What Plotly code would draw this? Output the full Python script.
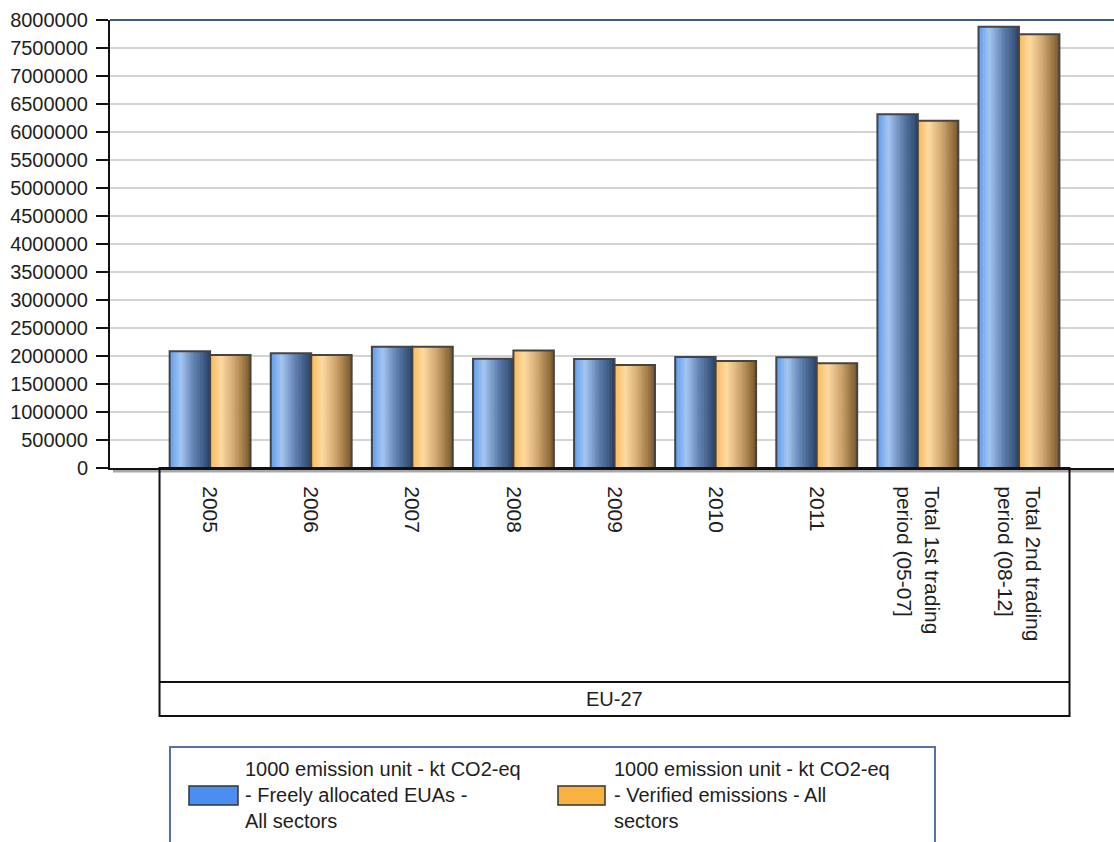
import plotly.graph_objects as go

# ---- data -------------------------------------------------------------
categories = [
    "2005", "2006", "2007", "2008", "2009", "2010", "2011",
    "Total 1st trading<br>period (05-07]",
    "Total 2nd trading<br>period (08-12]",
]
freely_allocated = [2085000, 2048000, 2163000, 1953000, 1948000,
                    1984000, 1977000, 6316000, 7880000]
verified_emissions = [2018000, 2018000, 2163000, 2097000, 1841000,
                      1912000, 1870000, 6200000, 7745000]

y_ticks = list(range(0, 8000001, 500000))
group_label = "EU-27"
legend_names = [
    "1000 emission unit - kt CO2-eq<br>- Freely allocated EUAs -<br>All sectors",
    "1000 emission unit - kt CO2-eq<br>- Verified emissions - All<br>sectors",
]

# ---- styling ----------------------------------------------------------
FONT = "Liberation Sans, Arial, sans-serif"
TEXT = "#1e1e1e"
W, H = 1114, 842
M_L, M_R, M_T, M_B = 110, 0, 20, 374
PLOT_H = H - M_T - M_B
PLOT_W = W - M_L - M_R

# horizontal gradient stops (position, rgb) for the cylinder-like bars
BLUE_STOPS = [(0.0, (92, 154, 238)), (0.27, (164, 198, 240)),
              (0.6, (96, 128, 176)), (1.0, (40, 66, 104))]
ORANGE_STOPS = [(0.0, (250, 184, 88)), (0.27, (253, 218, 160)),
                (0.6, (206, 164, 108)), (1.0, (120, 86, 40))]


def ramp(stops, t):
    for (p0, c0), (p1, c1) in zip(stops, stops[1:]):
        if p0 <= t <= p1:
            f = (t - p0) / (p1 - p0)
            c = [round(a + (b - a) * f) for a, b in zip(c0, c1)]
            return f"rgb({c[0]},{c[1]},{c[2]})"
    c = stops[-1][1]
    return f"rgb({c[0]},{c[1]},{c[2]})"


def py(pixel_y):
    """Pixel row on the page -> paper y coordinate."""
    return (H - M_B - pixel_y) / PLOT_H


def px(pixel_x):
    """Pixel column on the page -> paper x coordinate."""
    return (pixel_x - M_L) / PLOT_W


BAR_W = 0.4
N_STRIPES = 26

fig = go.Figure()

for values, stops, start in [(freely_allocated, BLUE_STOPS, -BAR_W),
                             (verified_emissions, ORANGE_STOPS, 0.0)]:
    sw = BAR_W / N_STRIPES
    for k in range(N_STRIPES):
        t = (k + 0.5) / N_STRIPES
        fig.add_trace(go.Bar(
            x=categories, y=values,
            width=sw * 1.35 if k < N_STRIPES - 1 else sw,
            offset=start + k * sw,
            marker=dict(color=ramp(stops, t), line=dict(width=0)),
            showlegend=False, hoverinfo="skip",
        ))
    # outline of each bar
    fig.add_trace(go.Bar(
        x=categories, y=values, width=BAR_W, offset=start,
        marker=dict(color="rgba(0,0,0,0)",
                    line=dict(color="#444444", width=2)),
        showlegend=False,
    ))

shapes = []
annotations = []

# shadow under the category axis
shapes.append(dict(type="line", xref="paper", yref="paper",
                   x0=px(113), x1=1, y0=py(471), y1=py(471),
                   line=dict(color="#a8a8a8", width=3), layer="below"))
# top border of the plot area
shapes.append(dict(type="line", xref="paper", yref="paper",
                   x0=0, x1=1, y0=1, y1=1,
                   line=dict(color="#3d5a8e", width=2)))

# grouping box below the category labels
box_style = dict(color="#111111", width=2)
shapes.append(dict(type="rect", xref="x", yref="paper",
                   x0=-0.5, x1=8.5, y0=py(716), y1=0,
                   line=box_style))
shapes.append(dict(type="line", xref="x", yref="paper",
                   x0=-0.5, x1=8.5, y0=py(682), y1=py(682),
                   line=box_style))
annotations.append(dict(text=group_label, xref="x", yref="paper",
                        x=4, y=py(699), xanchor="center", yanchor="middle",
                        showarrow=False,
                        font=dict(family=FONT, size=20, color=TEXT)))

# legend panel
shapes.append(dict(type="rect", xref="paper", yref="paper",
                   x0=px(170), x1=px(935), y0=py(880), y1=py(747),
                   line=dict(color="#56739f", width=2),
                   fillcolor="white"))
swatches = [("#4a8ff0", 189, 238, 243), ("#f8b242", 558, 605, 612)]
for (col, x0, x1, tx), name in zip(swatches, legend_names):
    shapes.append(dict(type="rect", xref="paper", yref="paper",
                       x0=px(x0), x1=px(x1), y0=py(805), y1=py(786),
                       fillcolor=col, line=dict(color="#333333", width=1.5)))
    annotations.append(dict(text=name, xref="paper", yref="paper",
                            x=px(tx), y=py(795), xanchor="left",
                            yanchor="middle", align="left", showarrow=False,
                            font=dict(family=FONT, size=20, color=TEXT)))

fig.update_layout(
    width=W, height=H,
    margin=dict(l=M_L, r=M_R, t=M_T, b=M_B, pad=0),
    barmode="overlay",
    plot_bgcolor="white", paper_bgcolor="white",
    showlegend=False,
    shapes=shapes, annotations=annotations,
    font=dict(family=FONT, color=TEXT),
)
fig.update_xaxes(
    type="category", range=[-0.99, 8.94],
    showline=True, linecolor="#111111", linewidth=2,
    ticks="", showgrid=False, tickangle=90,
    tickfont=dict(family=FONT, size=21, color=TEXT),
    ticklabelstandoff=12,
)
fig.update_yaxes(
    range=[0, 8000000], tickmode="array", tickvals=y_ticks,
    ticktext=[str(v) for v in y_ticks],
    showline=True, linecolor="#111111", linewidth=2,
    ticks="outside", ticklen=12, tickwidth=2, tickcolor="#111111",
    showgrid=True, gridcolor="#d4d4d4", gridwidth=2, zeroline=False,
    tickfont=dict(family=FONT, size=20, color=TEXT),
    ticklabelstandoff=4,
)

fig.write_html("out.html")
